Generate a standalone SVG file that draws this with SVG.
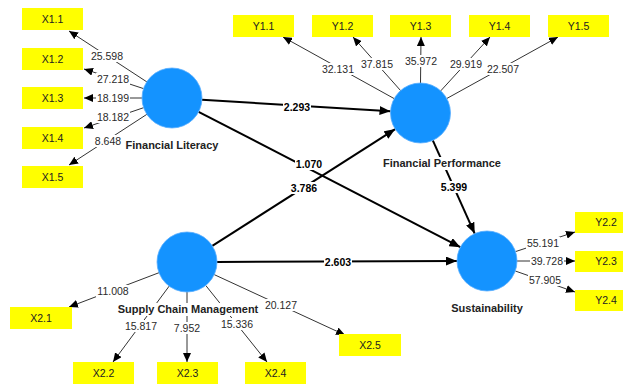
<svg xmlns="http://www.w3.org/2000/svg" width="626" height="384" viewBox="0 0 626 384">
<style>
.box{fill:#ffff00;stroke:none}
.bt{font-family:"Liberation Sans",Arial,sans-serif;font-size:10.5px;fill:#222;text-anchor:middle}
.lv{fill:#1493ff;stroke:#5aaeff;stroke-width:0.8}
.lt{font-family:"Liberation Sans",Arial,sans-serif;font-size:11px;font-weight:bold;fill:#222;text-anchor:middle}
.ld{stroke:#333;stroke-width:1;fill:none;marker-end:url(#ah)}
.sp{stroke:#000;stroke-width:2;fill:none;marker-end:url(#ahb)}
.bg{fill:#fff}
.n{font-family:"Liberation Sans",Arial,sans-serif;font-size:10.5px;fill:#2a2a2a;text-anchor:middle}
.nb{font-family:"Liberation Sans",Arial,sans-serif;font-size:10.5px;font-weight:bold;fill:#000;text-anchor:middle}
</style>
<defs>
<marker id="ah" markerUnits="userSpaceOnUse" markerWidth="9" markerHeight="8" refX="9" refY="4" orient="auto"><path d="M0,0 L9,4 L0,8 z" fill="#000"/></marker>
<marker id="ahb" markerUnits="userSpaceOnUse" markerWidth="11" markerHeight="9" refX="11" refY="4.5" orient="auto"><path d="M0,0 L11,4.5 L0,9 z" fill="#000"/></marker>
</defs>
<g id="connectors">
<line class="ld" x1="147" y1="82" x2="69" y2="31"/>
<line class="ld" x1="143.5" y1="88.6" x2="84" y2="69"/>
<line class="ld" x1="142" y1="98" x2="84" y2="98"/>
<line class="ld" x1="143.6" y1="107.7" x2="84" y2="128"/>
<line class="ld" x1="146.9" y1="114.3" x2="69" y2="165"/>
<line class="ld" x1="394" y1="98.5" x2="283" y2="37"/>
<line class="ld" x1="400.6" y1="90.6" x2="353" y2="37"/>
<line class="ld" x1="420.5" y1="83" x2="421" y2="37"/>
<line class="ld" x1="440.7" y1="90.9" x2="490" y2="37"/>
<line class="ld" x1="446.8" y1="98.5" x2="558" y2="37"/>
<line class="ld" x1="159" y1="272.7" x2="69" y2="307"/>
<line class="ld" x1="169.2" y1="286.1" x2="113" y2="362"/>
<line class="ld" x1="187" y1="292" x2="187" y2="362"/>
<line class="ld" x1="205.7" y1="285.4" x2="267" y2="362"/>
<line class="ld" x1="214.2" y1="274.6" x2="345" y2="335"/>
<line class="ld" x1="515.5" y1="251.6" x2="575" y2="232"/>
<line class="ld" x1="517" y1="261" x2="575" y2="261"/>
<line class="ld" x1="515.3" y1="271" x2="575" y2="292"/>
<line class="sp" x1="202" y1="99.8" x2="390.5" y2="111.2"/>
<line class="sp" x1="198.6" y1="111.8" x2="460.4" y2="247.2"/>
<line class="sp" x1="212.3" y1="245.9" x2="395.2" y2="129.1"/>
<line class="sp" x1="217" y1="262" x2="457" y2="261"/>
<line class="sp" x1="432.8" y1="140.4" x2="474.7" y2="233.6"/>
<rect class="bg" x="90" y="50" width="34" height="12"/><text class="n" x="107" y="59.7">25.598</text>
<rect class="bg" x="96" y="73" width="34" height="12"/><text class="n" x="113" y="82.7">27.218</text>
<rect class="bg" x="96" y="92" width="34" height="12"/><text class="n" x="113" y="101.7">18.199</text>
<rect class="bg" x="96" y="111" width="34" height="12"/><text class="n" x="113" y="120.7">18.182</text>
<rect class="bg" x="94" y="135" width="28" height="12"/><text class="n" x="108" y="144.7">8.648</text>
<rect class="bg" x="321" y="63" width="34" height="12"/><text class="n" x="338" y="72.7">32.131</text>
<rect class="bg" x="360" y="58" width="34" height="12"/><text class="n" x="377" y="67.7">37.815</text>
<rect class="bg" x="404" y="55" width="34" height="12"/><text class="n" x="421" y="64.7">35.972</text>
<rect class="bg" x="449" y="58" width="34" height="12"/><text class="n" x="466" y="67.7">29.919</text>
<rect class="bg" x="486" y="63" width="34" height="12"/><text class="n" x="503" y="72.7">22.507</text>
<rect class="bg" x="96" y="285" width="34" height="12"/><text class="n" x="113" y="294.7">11.008</text>
<rect class="bg" x="124" y="320" width="34" height="12"/><text class="n" x="141" y="329.7">15.817</text>
<rect class="bg" x="173" y="322" width="28" height="12"/><text class="n" x="187" y="331.7">7.952</text>
<rect class="bg" x="220" y="318" width="34" height="12"/><text class="n" x="237" y="327.7">15.336</text>
<rect class="bg" x="264" y="299" width="34" height="12"/><text class="n" x="281" y="308.7">20.127</text>
<rect class="bg" x="526" y="237" width="34" height="12"/><text class="n" x="543" y="246.7">55.191</text>
<rect class="bg" x="530" y="255" width="34" height="12"/><text class="n" x="547" y="264.7">39.728</text>
<rect class="bg" x="528" y="274" width="34" height="12"/><text class="n" x="545" y="283.7">57.905</text>
<rect class="bg" x="283" y="101" width="28" height="12"/><text class="nb" x="297" y="110.7">2.293</text>
<rect class="bg" x="295" y="158" width="28" height="12"/><text class="nb" x="309" y="167.7">1.070</text>
<rect class="bg" x="290" y="182" width="28" height="12"/><text class="nb" x="304" y="191.7">3.786</text>
<rect class="bg" x="440" y="181" width="28" height="12"/><text class="nb" x="454" y="190.7">5.399</text>
<rect class="bg" x="324" y="256" width="28" height="12"/><text class="nb" x="338" y="265.7">2.603</text>
</g>
<g id="FL"><circle class="lv" cx="172" cy="98" r="30"/><text class="lt" x="172" y="149">Financial Literacy</text></g>
<g id="FP"><circle class="lv" cx="420.5" cy="113" r="30"/><rect class="bg" x="381" y="157" width="122" height="13"/><text class="lt" x="442" y="167">Financial Performance</text></g>
<g id="SCM"><circle class="lv" cx="187" cy="262" r="30"/><rect class="bg" x="116" y="303" width="144" height="13"/><text class="lt" x="188" y="313">Supply Chain Management</text></g>
<g id="S"><circle class="lv" cx="487" cy="261" r="30"/><text class="lt" x="487" y="312">Sustainability</text></g>
<g id="X1.1"><rect class="box" x="22" y="8" width="61" height="22"/><text class="bt" x="52.5" y="22.7">X1.1</text></g>
<g id="X1.2"><rect class="box" x="22" y="48" width="61" height="22"/><text class="bt" x="52.5" y="62.7">X1.2</text></g>
<g id="X1.3"><rect class="box" x="22" y="87" width="61" height="22"/><text class="bt" x="52.5" y="101.7">X1.3</text></g>
<g id="X1.4"><rect class="box" x="22" y="127" width="61" height="22"/><text class="bt" x="52.5" y="141.7">X1.4</text></g>
<g id="X1.5"><rect class="box" x="22" y="166" width="61" height="22"/><text class="bt" x="52.5" y="180.7">X1.5</text></g>
<g id="Y1.1"><rect class="box" x="233" y="15" width="61" height="22"/><text class="bt" x="263.5" y="29.7">Y1.1</text></g>
<g id="Y1.2"><rect class="box" x="312" y="15" width="61" height="22"/><text class="bt" x="342.5" y="29.7">Y1.2</text></g>
<g id="Y1.3"><rect class="box" x="390" y="15" width="61" height="22"/><text class="bt" x="420.5" y="29.7">Y1.3</text></g>
<g id="Y1.4"><rect class="box" x="469" y="15" width="61" height="22"/><text class="bt" x="499.5" y="29.7">Y1.4</text></g>
<g id="Y1.5"><rect class="box" x="548" y="15" width="61" height="22"/><text class="bt" x="578.5" y="29.7">Y1.5</text></g>
<g id="X2.1"><rect class="box" x="10" y="307" width="62" height="22"/><text class="bt" x="41" y="321.7">X2.1</text></g>
<g id="X2.2"><rect class="box" x="73" y="362" width="61" height="22"/><text class="bt" x="103.5" y="376.7">X2.2</text></g>
<g id="X2.3"><rect class="box" x="157" y="362" width="61" height="22"/><text class="bt" x="187.5" y="376.7">X2.3</text></g>
<g id="X2.4"><rect class="box" x="245" y="362" width="61" height="22"/><text class="bt" x="275.5" y="376.7">X2.4</text></g>
<g id="X2.5"><rect class="box" x="339" y="334" width="62" height="22"/><text class="bt" x="370" y="348.7">X2.5</text></g>
<g id="Y2.2"><rect class="box" x="575" y="212" width="48" height="21"/><text class="bt" x="606" y="226.2">Y2.2</text></g>
<g id="Y2.3"><rect class="box" x="575" y="251" width="48" height="21"/><text class="bt" x="606" y="265.2">Y2.3</text></g>
<g id="Y2.4"><rect class="box" x="575" y="290" width="48" height="21"/><text class="bt" x="606" y="304.2">Y2.4</text></g>
</svg>
